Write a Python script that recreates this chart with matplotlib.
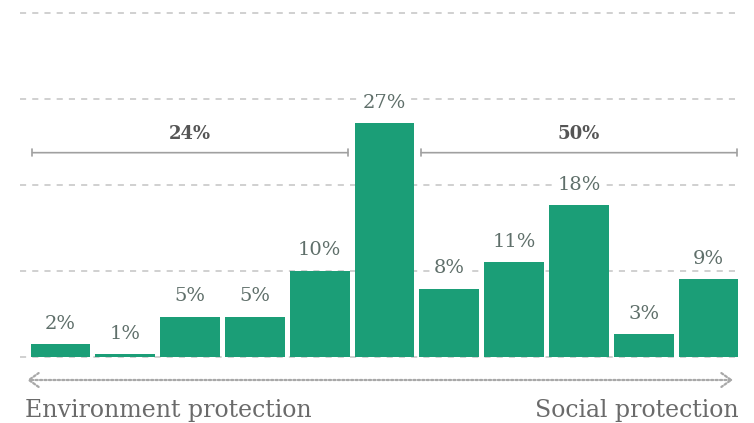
import matplotlib.pyplot as plt

# bar heights (percent), and the printed labels
heights = [1.4, 0.3, 4.65, 4.65, 10.0, 27.1, 7.9, 11.0, 17.6, 2.6, 9.0]
labels = ['2%', '1%', '5%', '5%', '10%', '27%', '8%', '11%', '18%', '3%', '9%']
groups = [(0, 4, '24%'), (6, 10, '50%')]
left_text = 'Environment protection'
right_text = 'Social protection'

bar_color = '#1b9e77'
serif = ['DejaVu Serif']

fig = plt.figure(figsize=(7.54, 4.23), dpi=100)
ax = fig.add_axes([28.1 / 754, 66.5 / 423, 712.8 / 754, 344 / 423])

x = list(range(len(heights)))

# dashed gridlines behind everything
for g in [0, 10, 20, 30, 40]:
    ax.hlines(g, -0.62, 10.45, colors='#c4c4c4', linestyles=(0, (4, 4)),
              linewidth=1.1, zorder=0, clip_on=False)

ax.bar(x, heights, width=0.925, color=bar_color, zorder=2)

# value labels with white boxes so they cut the gridlines
for xi, h, lab in zip(x, heights, labels):
    ax.annotate(lab, (xi, h), xytext=(0, 8), textcoords='offset points',
                ha='center', va='bottom', fontsize=14, family=serif,
                color='#5f6f6a', zorder=3,
                bbox=dict(boxstyle='square,pad=0.1', fc='white', ec='none'))

# brackets for the group totals
for a, b, txt in groups:
    x0 = a - 0.925 / 2 + 0.03
    x1 = b + 0.925 / 2 - 0.03
    ax.annotate('', xy=(x0, 23.7), xytext=(x1, 23.7),
                arrowprops=dict(arrowstyle='|-|,widthA=0.25,widthB=0.25',
                                color='#a0a0a0', lw=1.2, shrinkA=0, shrinkB=0))
    ax.text((x0 + x1) / 2, 25.9, txt, ha='center', va='center', fontsize=13,
            fontweight='bold', family=serif, color='#555555')

# dotted double arrow under the axis
ax.annotate('', xy=(27 / 754, 43 / 423), xytext=(733 / 754, 43 / 423),
            xycoords='figure fraction', textcoords='figure fraction',
            arrowprops=dict(arrowstyle='<->,head_length=0.7,head_width=0.5',
                            color='#a8a8a8', lw=1.6, linestyle=(0, (1, 1)),
                            shrinkA=0, shrinkB=0))

fig.text(25 / 754, 6 / 423, left_text, ha='left', va='baseline', fontsize=17,
         family=serif, color='#6a6a6a')
fig.text(739 / 754, 6 / 423, right_text, ha='right', va='baseline', fontsize=17,
         family=serif, color='#6a6a6a')

ax.set_xlim(-0.5, 10.5)
ax.set_ylim(0, 40)
ax.axis('off')

plt.savefig('out.png', dpi=100)
